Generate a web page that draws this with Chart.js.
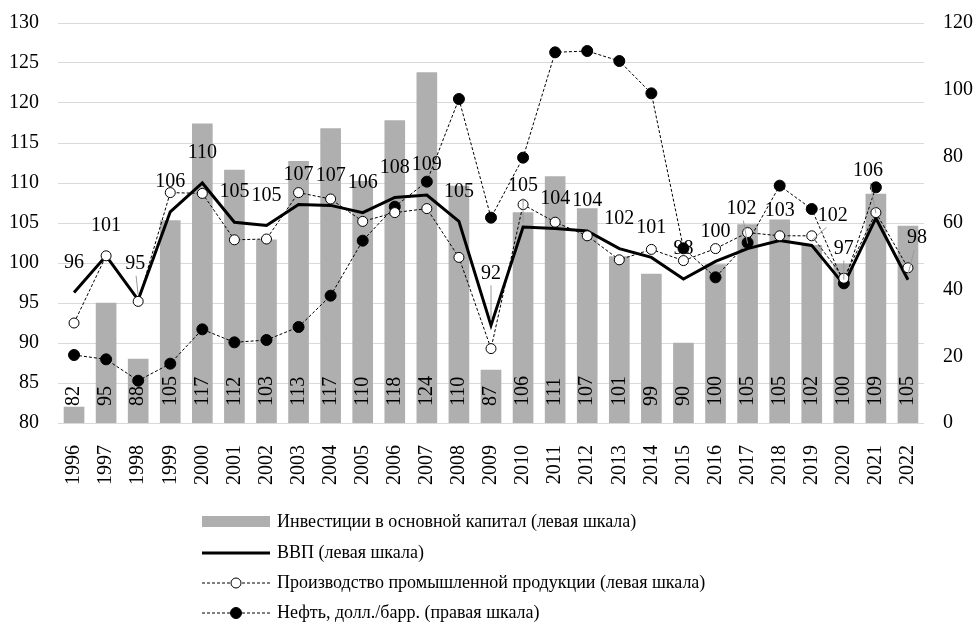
<!DOCTYPE html>
<html>
<head>
<meta charset="utf-8">
<script src="https://cdn.jsdelivr.net/npm/chart.js@4"></script>
<style>
  html, body { margin: 0; padding: 0; background: #fff; }
</style>
</head>
<body>
<canvas id="myChart" width="978" height="625"></canvas>
<script>
const years = ["1996", "1997", "1998", "1999", "2000", "2001", "2002", "2003", "2004", "2005",
  "2006", "2007", "2008", "2009", "2010", "2011", "2012", "2013", "2014", "2015",
  "2016", "2017", "2018", "2019", "2020", "2021", "2022"];

// left scale
const investment = [82.0, 95.0, 88.0, 105.3, 117.4, 111.6, 102.9, 112.7, 116.8, 110.2,
  117.8, 123.8, 109.6, 86.6, 106.3, 110.8, 106.8, 100.8, 98.6, 90.0,
  99.8, 104.8, 105.4, 102.2, 99.9, 108.6, 104.6];
const gdp = [96.3, 100.9, 95.4, 106.4, 110.0, 105.1, 104.7, 107.3, 107.2, 106.3,
  108.2, 108.5, 105.2, 92.2, 104.5, 104.3, 104.0, 101.8, 100.7, 98.0,
  100.2, 101.8, 102.8, 102.2, 97.3, 105.6, 97.9];
const industry = [92.5, 100.9, 95.2, 108.8, 108.7, 102.9, 103.0, 108.8, 108.0, 105.2,
  106.3, 106.8, 100.7, 89.3, 107.3, 105.1, 103.4, 100.4, 101.7, 100.3,
  101.8, 103.8, 103.4, 103.4, 98.1, 106.3, 99.4];
// right scale, USD per barrel
const oil = [20.4, 19.1, 12.7, 17.8, 28.1, 24.2, 24.9, 28.8, 38.2, 54.7,
  64.9, 72.4, 97.2, 61.6, 79.6, 111.2, 111.6, 108.6, 98.9, 52.4,
  43.7, 54.1, 71.2, 64.2, 41.9, 70.7, null];

const FONT = '"Liberation Serif", "Times New Roman", serif';
const barGray = "#afafaf";

// hand-moved GDP labels (dx, dy from the point); the rest sit 30px above
const labelShift = {
  "1998": [-3, -36], "2009": [0, -52], "2010": [0, -41], "2017": [-6, -40],
  "2019": [21, -30], "2020": [0, -36], "2021": [-8, -47], "2022": [9, -42]
};

const valueLabels = {
  id: "valueLabels",
  afterDatasetDraw(chart, args) {
    if (args.index !== 0) return;
    const ctx = chart.ctx;
    const base = chart.scales.y.bottom;
    ctx.save();
    ctx.font = "20px " + FONT;
    ctx.fillStyle = "#000";
    ctx.textAlign = "left";
    ctx.textBaseline = "middle";
    args.meta.data.forEach((bar, i) => {
      ctx.save();
      ctx.translate(bar.x, base - 17);
      ctx.rotate(-Math.PI / 2);
      ctx.fillText(String(Math.round(investment[i])), 0, 0);
      ctx.restore();
    });
    ctx.restore();
  },
  afterDatasetsDraw(chart) {
    const ctx = chart.ctx;
    const meta = chart.getDatasetMeta(1);
    ctx.save();
    ctx.font = "20px " + FONT;
    ctx.textAlign = "center";
    ctx.textBaseline = "middle";
    meta.data.forEach((pt, i) => {
      const s = labelShift[years[i]] || [0, -30];
      const lx = pt.x + s[0], ly = pt.y + s[1];
      if (labelShift[years[i]]) {
        ctx.strokeStyle = "#9a9a9a";
        ctx.lineWidth = 1;
        ctx.beginPath();
        ctx.moveTo(lx - s[0] * 0.3, ly + 12);
        ctx.lineTo(pt.x, pt.y - 5);
        ctx.stroke();
      }
      ctx.fillStyle = "#000";
      ctx.fillText(String(Math.round(gdp[i])), lx, ly);
    });
    ctx.restore();
  }
};

// legend stacked in one left-aligned column under the plot
const columnLegend = {
  id: "columnLegend",
  afterDraw(chart) {
    const ctx = chart.ctx;
    const x0 = 202, x1 = 270, tx = 277;
    const rows = [522, 553, 583, 613];
    ctx.save();
    ctx.font = "18px " + FONT;
    ctx.textAlign = "left";
    ctx.textBaseline = "middle";
    chart.data.datasets.forEach((ds, i) => {
      const y = rows[i];
      if (i === 0) {
        ctx.fillStyle = barGray;
        ctx.fillRect(x0, y - 6, x1 - x0, 11);
      } else {
        ctx.strokeStyle = "#000";
        ctx.lineWidth = ds.borderWidth;
        ctx.setLineDash(ds.borderDash || []);
        ctx.beginPath();
        ctx.moveTo(x0, y);
        ctx.lineTo(x1, y);
        ctx.stroke();
        ctx.setLineDash([]);
        if (ds.pointRadius > 0) {
          ctx.beginPath();
          ctx.arc((x0 + x1) / 2, y, ds.pointRadius, 0, Math.PI * 2);
          ctx.fillStyle = ds.pointBackgroundColor;
          ctx.fill();
          ctx.lineWidth = 1;
          ctx.stroke();
        }
      }
      ctx.fillStyle = "#000";
      ctx.fillText(ds.label, tx, y);
    });
    ctx.restore();
  }
};

// fixed axis boxes so the plot area lands where the original has it
function fixBox(size) {
  return function (scale) {
    if (scale.isHorizontal()) scale.height = size; else scale.width = size;
    scale.paddingTop = 0;
    scale.paddingBottom = 0;
    scale.paddingLeft = 0;
    scale.paddingRight = 0;
  };
}

const ctx = document.getElementById("myChart").getContext("2d");

new Chart(ctx, {
  data: {
    labels: years,
    datasets: [
      {
        type: "bar",
        label: "Инвестиции в основной капитал (левая шкала)",
        data: investment,
        backgroundColor: barGray,
        barThickness: 20,
        yAxisID: "y",
        order: 10
      },
      {
        type: "line",
        label: "ВВП (левая шкала)",
        data: gdp,
        borderColor: "#000",
        borderWidth: 3,
        pointRadius: 0,
        tension: 0,
        yAxisID: "y",
        order: 3
      },
      {
        type: "line",
        label: "Производство промышленной продукции (левая шкала)",
        data: industry,
        borderColor: "#000",
        borderWidth: 1,
        borderDash: [3, 2],
        pointRadius: 5,
        pointBackgroundColor: "#fff",
        pointBorderColor: "#000",
        pointBorderWidth: 1,
        tension: 0,
        yAxisID: "y",
        order: 1
      },
      {
        type: "line",
        label: "Нефть, долл./барр. (правая шкала)",
        data: oil,
        borderColor: "#000",
        borderWidth: 1,
        borderDash: [3, 2],
        pointRadius: 5.5,
        pointBackgroundColor: "#000",
        pointBorderColor: "#000",
        pointBorderWidth: 1,
        tension: 0,
        yAxisID: "y1",
        order: 2
      }
    ]
  },
  options: {
    responsive: false,
    animation: false,
    layout: { padding: { top: 23, left: 0, right: 0, bottom: 0 } },
    plugins: {
      legend: { display: false },
      tooltip: { enabled: false }
    },
    scales: {
      x: {
        grid: { display: false },
        border: { display: false },
        ticks: {
          minRotation: 90,
          maxRotation: 90,
          padding: 14,
          color: "#000",
          font: { family: FONT, size: 20 }
        },
        afterFit: fixBox(202)
      },
      y: {
        position: "left",
        min: 80,
        max: 130,
        border: { display: false },
        grid: { color: "#d9d9d9", lineWidth: 1, drawTicks: false },
        ticks: {
          stepSize: 5,
          padding: 19,
          color: "#000",
          font: { family: FONT, size: 20 }
        },
        afterFit: fixBox(58)
      },
      y1: {
        position: "right",
        min: 0,
        max: 120,
        border: { display: false },
        grid: { drawOnChartArea: false, drawTicks: false },
        ticks: {
          stepSize: 20,
          padding: 19,
          color: "#000",
          font: { family: FONT, size: 20 }
        },
        afterFit: fixBox(54)
      }
    }
  },
  plugins: [valueLabels, columnLegend]
});
</script>
</body>
</html>
